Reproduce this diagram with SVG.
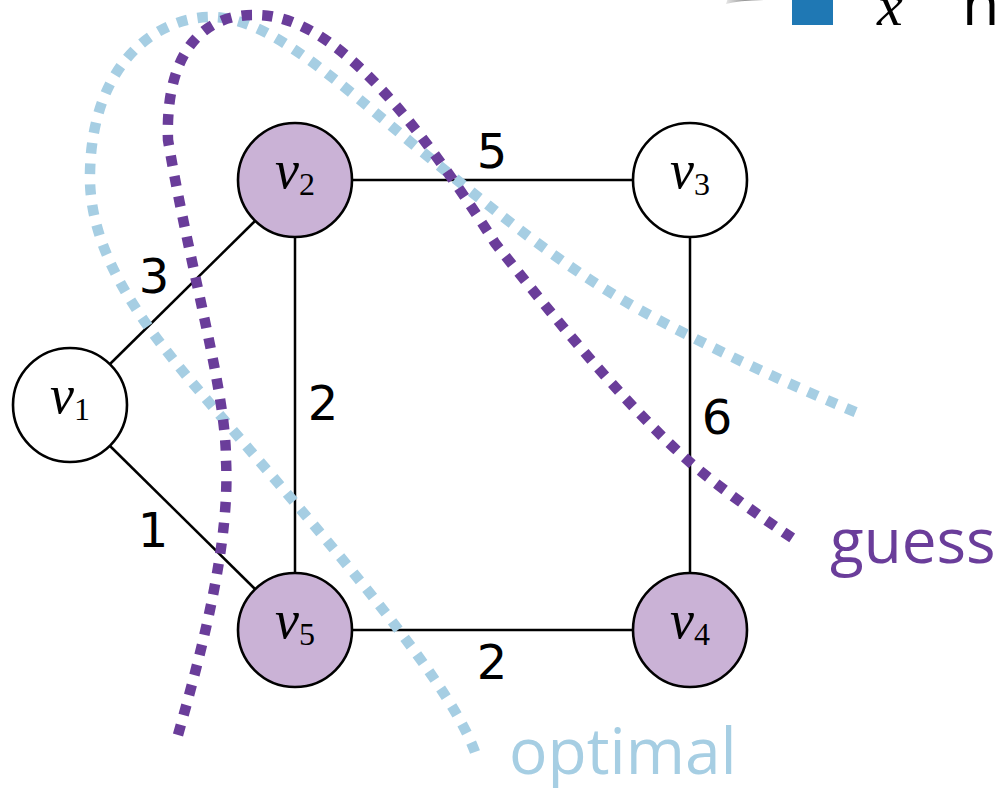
<svg xmlns="http://www.w3.org/2000/svg" width="1001" height="788" viewBox="0 0 1001 788">
<style>
.edge{stroke:#000;stroke-width:2.5;fill:none}
.node circle{stroke:#000;stroke-width:2.6}
.sel circle{fill:#cab2d6}
.uns circle{fill:#fff}
.vl{font-family:"Liberation Serif",serif;fill:#000}
.vv{font-style:italic;font-size:54px}
.vs{font-size:32px}
.wl{font-family:"DejaVu Sans",sans-serif;font-size:48px;fill:#000;text-anchor:middle}
.cut{fill:none;stroke-width:10.5;stroke-dasharray:10.5 10.2}
.lab{font-family:"Open Sans",sans-serif}
</style>
<defs>
<linearGradient id="gg" x1="0" x2="1" y1="0" y2="0">
<stop offset="0" stop-color="#e6e6e6"/>
<stop offset="0.4" stop-color="#999"/>
<stop offset="1" stop-color="#777"/>
</linearGradient>
</defs>
<rect width="1001" height="788" fill="#fff"/>
<g id="legend">
<path d="M726 4 Q740 0 773 0 L773 -2 L728 -2 Z" fill="url(#gg)"/>
<rect x="792" y="-16" width="41" height="41" fill="#1f78b4"/>
<text x="877" y="25" font-family="Liberation Serif,serif" font-style="italic" font-size="58">x</text>
<text x="962" y="25" class="lab" font-size="61" fill="#000">ne</text>
</g>
<g id="edges">
<line class="edge" x1="110" y1="364" x2="255" y2="221"/>
<line class="edge" x1="110" y1="446" x2="255" y2="589"/>
<line class="edge" x1="352" y1="180" x2="633" y2="180"/>
<line class="edge" x1="295" y1="237" x2="295" y2="573"/>
<line class="edge" x1="690" y1="237" x2="690" y2="573"/>
<line class="edge" x1="352" y1="630" x2="633" y2="630"/>
<text class="wl" x="154" y="293">3</text>
<text class="wl" x="492" y="168">5</text>
<text class="wl" x="323" y="420">2</text>
<text class="wl" x="153" y="547">1</text>
<text class="wl" x="492" y="679">2</text>
<text class="wl" x="717" y="434">6</text>
</g>
<g id="v1" class="node uns"><circle cx="70" cy="405" r="57"/><text class="vl" x="70" y="413" text-anchor="middle"><tspan class="vv">v</tspan><tspan class="vs" dy="7">1</tspan></text></g>
<g id="v2" class="node sel"><circle cx="295" cy="180" r="57"/><text class="vl" x="295" y="188" text-anchor="middle"><tspan class="vv">v</tspan><tspan class="vs" dy="7">2</tspan></text></g>
<g id="v3" class="node uns"><circle cx="690" cy="180" r="57"/><text class="vl" x="690" y="188" text-anchor="middle"><tspan class="vv">v</tspan><tspan class="vs" dy="7">3</tspan></text></g>
<g id="v4" class="node sel"><circle cx="690" cy="630" r="57"/><text class="vl" x="690" y="638" text-anchor="middle"><tspan class="vv">v</tspan><tspan class="vs" dy="7">4</tspan></text></g>
<g id="v5" class="node sel"><circle cx="295" cy="630" r="57"/><text class="vl" x="295" y="638" text-anchor="middle"><tspan class="vv">v</tspan><tspan class="vs" dy="7">5</tspan></text></g>
<g id="optimal">
<path class="cut" stroke="#a6cee3" d="M475 752 C445 670 300 510 190 380 C140 320 88 250 90 173 C92 60 160 15 215 17 C270 20 330 75 420 150 C500 215 560 265 640 310 C710 348 790 385 860 414"/>
<text class="lab" x="509" y="774" font-size="64" fill="#a6cee3">optimal</text>
</g>
<g id="guess">
<path class="cut" stroke="#6a3d9a" d="M178 735 C205 640 230 540 226 460 C226 390 190 270 168 140 C165 50 205 14 255 15 C330 14 410 110 495 243 C560 325 630 410 693 465 C727 493 762 518 797 541"/>
<text class="lab" x="830" y="563" font-size="62" fill="#6a3d9a">guess</text>
</g>
</svg>
